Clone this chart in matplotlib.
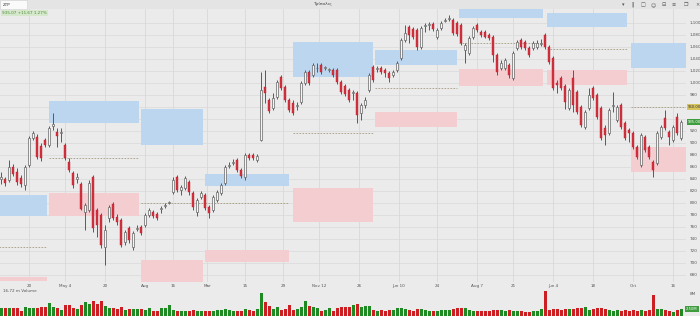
import matplotlib
matplotlib.use("Agg")
import matplotlib.pyplot as plt
from matplotlib.patches import Rectangle
import numpy as np

# ---------------- data ----------------
opens = [840, 840, 838, 860, 852, 842, 830, 863, 908, 910,
         895, 905, 897, 928, 918, 917, 897, 868, 850, 840,
         832, 785, 788, 843, 788, 780, 727, 775, 798, 777,
         772, 735, 758, 727, 757, 760, 763, 780, 785, 782,
         790, 795, 800, 818, 843, 822, 825, 835, 817, 785,
         810, 813, 793, 788, 805, 817, 833, 862, 867, 872,
         855, 843, 880, 880, 872, 905, 993, 972, 958, 977,
         1010, 993, 972, 967, 962, 968, 1000, 1018, 1013, 1024,
         1030, 1025, 1021, 1022, 1022, 1002, 995, 988, 983, 983,
         950, 963, 988, 1027, 1023, 1025, 1022, 1017, 1013, 1022,
         1042, 1072, 1093, 1090, 1088, 1060, 1095, 1097, 1098, 1077,
         1092, 1103, 1107, 1105, 1100, 1097, 1055, 1050, 1077, 1097,
         1085, 1085, 1080, 1077, 1047, 1025, 1025, 1030, 1008, 1058,
         1072, 1068, 1058, 1058, 1060, 1065, 1080, 1060, 1042, 1000,
         1008, 995, 958, 1008, 985, 960, 927, 958, 992, 980,
         958, 925, 917, 962, 938, 963, 933, 922, 917, 893,
         863, 910, 893, 868, 867, 910, 942, 918, 905, 943,
         908]
highs = [852, 843, 872, 865, 858, 847, 863, 912, 920, 915,
         900, 908, 928, 950, 925, 925, 900, 875, 853, 850,
         835, 800, 838, 847, 792, 783, 763, 797, 802, 782,
         775, 755, 762, 753, 763, 763, 783, 792, 788, 785,
         795, 800, 803, 843, 847, 830, 845, 838, 820, 808,
         820, 817, 797, 813, 822, 833, 863, 868, 873, 875,
         858, 883, 883, 883, 882, 1018, 1022, 975, 983, 1005,
         1013, 997, 975, 972, 968, 1003, 1022, 1022, 1033, 1033,
         1033, 1028, 1025, 1025, 1025, 1005, 998, 992, 988, 987,
         967, 977, 1017, 1030, 1028, 1028, 1025, 1020, 1022, 1037,
         1075, 1097, 1097, 1093, 1092, 1095, 1100, 1102, 1102, 1092,
         1103, 1108, 1113, 1108, 1103, 1100, 1067, 1078, 1095, 1100,
         1088, 1088, 1083, 1080, 1050, 1038, 1042, 1033, 1053, 1072,
         1075, 1072, 1062, 1070, 1072, 1073, 1083, 1063, 1045, 1005,
         1012, 998, 992, 1022, 988, 963, 955, 992, 995, 983,
         962, 930, 958, 985, 963, 967, 937, 925, 920, 897,
         917, 913, 897, 872, 920, 930, 955, 922, 930, 950,
         938]
lows = [832, 828, 835, 845, 830, 827, 822, 860, 905, 873,
        870, 893, 893, 922, 893, 902, 872, 852, 825, 833,
        788, 755, 785, 752, 743, 725, 697, 768, 772, 763,
        727, 730, 733, 722, 753, 747, 760, 777, 775, 772,
        783, 792, 798, 815, 818, 813, 822, 813, 788, 778,
        807, 788, 775, 785, 802, 813, 830, 858, 863, 852,
        842, 838, 872, 872, 868, 903, 967, 950, 955, 973,
        988, 968, 952, 947, 955, 965, 997, 997, 1010, 1018,
        1015, 1022, 1018, 1010, 998, 982, 978, 968, 972, 933,
        938, 958, 985, 1002, 1018, 1015, 1010, 1002, 1010, 1018,
        1038, 1068, 1067, 1073, 1055, 1057, 1085, 1088, 1087, 1073,
        1088, 1102, 1103, 1080, 1078, 1063, 1033, 1047, 1073, 1085,
        1077, 1075, 1072, 1035, 1013, 1022, 1022, 1008, 1005, 1055,
        1057, 1055, 1043, 1055, 1057, 1062, 1057, 1032, 988, 983,
        988, 957, 955, 952, 948, 927, 923, 955, 972, 940,
        905, 897, 913, 952, 935, 923, 905, 902, 890, 873,
        860, 885, 873, 843, 863, 907, 922, 897, 902, 913,
        905]
closes = [843, 833, 860, 848, 835, 832, 860, 908, 917, 877,
          875, 897, 925, 932, 912, 918, 875, 855, 830, 843,
          790, 797, 833, 758, 763, 730, 755, 793, 775, 768,
          730, 752, 738, 750, 758, 750, 780, 788, 778, 775,
          792, 797, 802, 838, 822, 827, 842, 818, 793, 805,
          817, 792, 783, 810, 818, 830, 860, 863, 868, 855,
          845, 880, 875, 875, 878, 988, 983, 953, 975, 1002,
          992, 972, 955, 950, 963, 1000, 1018, 1000, 1030, 1025,
          1018, 1026, 1022, 1013, 1002, 985, 982, 972, 985, 947,
          963, 972, 1013, 1005, 1025, 1018, 1017, 1008, 1018, 1033,
          1072, 1083, 1080, 1077, 1060, 1092, 1097, 1098, 1090, 1088,
          1100, 1105, 1108, 1083, 1082, 1067, 1063, 1075, 1092, 1088,
          1080, 1077, 1075, 1047, 1018, 1033, 1038, 1013, 1050, 1068,
          1060, 1058, 1047, 1067, 1067, 1067, 1060, 1035, 992, 997,
          992, 968, 988, 963, 952, 930, 952, 980, 975, 943,
          908, 913, 955, 963, 960, 927, 908, 917, 893, 877,
          913, 888, 877, 855, 917, 927, 925, 910, 927, 917,
          935]
volumes = [2.9, 2.9, 2.7, 2.9, 2.7, 1.9, 3.2, 2.9, 2.7, 2.9,
           3.0, 3.2, 4.4, 3.2, 2.9, 2.1, 3.8, 3.8, 2.9, 2.3,
           3.8, 5.0, 4.1, 5.2, 4.2, 5.2, 3.6, 2.9, 2.7, 2.3,
           3.0, 2.1, 2.4, 2.4, 2.3, 2.3, 2.1, 2.7, 1.9, 1.6,
           2.9, 2.7, 3.9, 2.1, 1.9, 1.9, 1.6, 1.7, 2.1, 1.9,
           1.9, 1.9, 1.9, 1.9, 2.1, 2.1, 2.3, 2.1, 1.9, 1.9,
           1.6, 2.3, 2.1, 1.9, 2.4, 8.1, 5.0, 3.5, 2.3, 3.0,
           2.1, 2.3, 3.8, 2.1, 2.3, 3.0, 5.2, 3.5, 3.2, 2.9,
           1.9, 2.1, 2.7, 1.7, 2.7, 3.2, 3.0,
           3.2, 3.8, 4.2, 3.2, 3.6, 3.5, 2.1, 1.9, 2.1, 1.9,
           2.1, 2.1, 2.7, 2.7, 2.3, 2.1, 1.9, 2.4, 2.4, 2.1,
           1.7, 1.6, 1.9, 2.1, 2.1, 2.1, 2.3, 2.7, 2.7, 2.9,
           2.1, 1.9, 1.7, 1.7, 1.9, 1.7, 2.1, 2.1, 2.1, 1.9,
           2.1, 1.9, 1.9, 1.7, 1.5, 1.5, 1.6, 1.9, 2.3, 8.7,
           2.1, 2.3, 2.5, 2.1, 2.4, 2.3, 2.3, 2.7, 2.7, 3.2,
           2.1, 2.3, 2.9, 2.7, 2.4, 2.1, 1.9, 2.0, 1.9, 2.1,
           1.9, 2.1, 1.9, 2.1, 1.9, 2.1, 7.3, 2.4, 2.4, 2.1,
           1.9, 1.5, 2.1, 2.5]

date_pos = [7, 16, 26, 36, 43, 51.5, 61, 70.5, 79.5, 89.5, 99.5, 109, 119, 128, 138, 148, 158, 168]
date_labels = ["20", "May 4", "20", "Aug", "16", "Mar", "15", "29", "Nov 12", "26",
               "Jun 10", "24", "Aug 7", "21", "Jun 4", "18", "Oct", "16"]

price_ticks = [680, 700, 720, 740, 760, 780, 800, 820, 840, 860, 880, 900, 920,
               980, 1000, 1020, 1040, 1060, 1080, 1100]
grid_levels = list(range(680, 1101, 20))

zone_start = [-0.5, 12, 35, 51, 73, 93.5, 114.5, 136.5, 157.5]
zone_end = [11.5, 34.5, 50.5, 72, 93, 114, 135.5, 156.5, 171.2]
blue_lo = [778, 933, 897, 828, 1010, 1030, 1108, 1093, 1025]
blue_hi = [813, 970, 957, 848, 1068, 1055, 1125, 1117, 1067]
pink_lo = [670, 778, 666, 702, 768, 927, 995, 997, 852]
pink_hi = [677, 817, 705, 722, 825, 952, 1023, 1022, 893]
dash_level = [727, 875, 800, 800, 917, 992, 1067, 1057, 960]

last_marker = 960
last_price = closes[-1]

# ---------------- figure ----------------
W, H = 700, 316
bg = "#ebebeb"
fig = plt.figure(figsize=(7, 3.16), dpi=100)
fig.patch.set_facecolor(bg)

def fx(px):
    return px / W

def fy(py):
    return 1 - py / H

xlo, xhi = -0.25, 171.25
ax = fig.add_axes([0, fy(282), fx(686), (282 - 9) / H])
ax.set_facecolor(bg)
ax.set_xlim(xlo, xhi)
ax.set_ylim(668, 1123)
for s in ax.spines.values():
    s.set_visible(False)

for lv in grid_levels:
    ax.axhline(lv, color="#dcdcdc", lw=0.6, zorder=0)
for p in date_pos:
    ax.axvline(p, color="#d8d8d8", lw=0.6, zorder=0)

# zones
for i in range(len(zone_start)):
    w = zone_end[i] - zone_start[i]
    ax.add_patch(Rectangle((zone_start[i], blue_lo[i]), w, blue_hi[i] - blue_lo[i],
                           facecolor="#bcd6ef", edgecolor="none", zorder=1))
    ax.add_patch(Rectangle((zone_start[i], pink_lo[i]), w, pink_hi[i] - pink_lo[i],
                           facecolor="#f4cdd1", edgecolor="none", zorder=1))
    ax.hlines(dash_level[i], zone_start[i], zone_end[i], colors="#a69a80",
              linestyles=(0, (2, 1.6)), lw=0.6, zorder=1.5)

# candles
n = len(opens)
xs = np.arange(n)
o = np.array(opens, float)
c = np.array(closes, float)
h = np.array(highs, float)
l = np.array(lows, float)
up = c >= o
red = "#d6313d"
red_edge = "#b3232e"
hollow_face = "#f6f6f6"
hollow_edge = "#666666"

ax.vlines(xs[up], l[up], h[up], colors="#505050", lw=0.65, zorder=2)
ax.vlines(xs[~up], l[~up], h[~up], colors=red_edge, lw=0.65, zorder=2)
bottoms = np.minimum(o, c)
heights = np.maximum(np.abs(c - o), 1.2)
ax.bar(xs[up], heights[up], bottom=bottoms[up], width=0.66, color=hollow_face,
       edgecolor=hollow_edge, linewidth=0.5, zorder=3)
ax.bar(xs[~up], heights[~up], bottom=bottoms[~up], width=0.66, color=red,
       edgecolor=red_edge, linewidth=0.3, zorder=3)

ax.yaxis.tick_right()
ax.set_yticks(price_ticks)
ax.set_yticklabels([f"{v:,}" for v in price_ticks])
ax.tick_params(axis="y", length=0, pad=2.5, labelsize=3, labelcolor="#555555")
ax.set_xticks(date_pos)
ax.set_xticklabels(date_labels)
ax.tick_params(axis="x", length=0, pad=1.2, labelsize=3, labelcolor="#555555")

# price labels on the axis
ytr = ax.get_yaxis_transform()
ax.text(1.0025, last_marker, f"{last_marker:.2f}", transform=ytr, fontsize=2.7,
        color="#333333", va="center", ha="left",
        bbox=dict(boxstyle="square,pad=0.25", facecolor="#d8c45e", edgecolor="none"),
        clip_on=False)
ax.text(1.0025, last_price, f"{last_price:.2f}", transform=ytr, fontsize=2.7,
        color="white", va="center", ha="left",
        bbox=dict(boxstyle="square,pad=0.25", facecolor="#3f9d3f", edgecolor="none"),
        clip_on=False)

# volume panel
vax = fig.add_axes([0, 0, fx(686), 26 / H])
vax.set_facecolor(bg)
vax.set_xlim(xlo, xhi)
vax.set_ylim(0, 9.05)
for s in vax.spines.values():
    s.set_visible(False)
vol = np.array(volumes, float)
vax.bar(xs[up], vol[up], width=0.75, color="#1f8a24", zorder=2)
vax.bar(xs[~up], vol[~up], width=0.75, color="#cc1f24", zorder=2)
vax.yaxis.tick_right()
vax.set_yticks([8])
vax.set_yticklabels(["8M"])
vax.tick_params(axis="y", length=0, pad=2.5, labelsize=3, labelcolor="#555555")
vax.set_xticks([])
vtr = vax.get_yaxis_transform()
vax.text(1.0, volumes[-1], f"{volumes[-1]:.2f}M", transform=vtr, fontsize=2.7,
         color="white", va="center", ha="left",
         bbox=dict(boxstyle="square,pad=0.25", facecolor="#3f9d3f", edgecolor="none"),
         clip_on=False)
fig.text(fx(3), fy(291), "16,72 m Volume", fontsize=3, color="#555555", va="center")

# header bar
fig.patches.append(Rectangle((0, fy(9)), 1, 9 / H, transform=fig.transFigure,
                             facecolor="#e4e4e4", edgecolor="none", zorder=0))
fig.patches.append(Rectangle((0, fy(9)), fx(27), 9 / H, transform=fig.transFigure,
                             facecolor="#fafafa", edgecolor="#d0d0d0", lw=0.4, zorder=1))
fig.text(fx(3), fy(4.5), "ΖΤΡ", fontsize=3, color="#333333", va="center")
fig.text(fx(322), fy(4.5), "Τρίπολις", fontsize=3.2, color="#444444", va="center", ha="center")
fig.text(fx(2), fy(13), "935.07 +11.67 1.27%", fontsize=3, color="#4d8a3a", va="center",
         bbox=dict(boxstyle="square,pad=0.3", facecolor="#d6e8cc", edgecolor="none"))
icons = ["▾", "‖", "□", "☺", "⊟", "≡", "❐", "×"]
icon_x = [623, 633, 643, 653, 664, 674, 686, 697]
for t, xx in zip(icons, icon_x):
    fig.text(fx(xx), fy(4.5), t, fontsize=3.6, color="#555555", va="center", ha="center")

fig.savefig("out.png", dpi=100, facecolor=fig.get_facecolor())
